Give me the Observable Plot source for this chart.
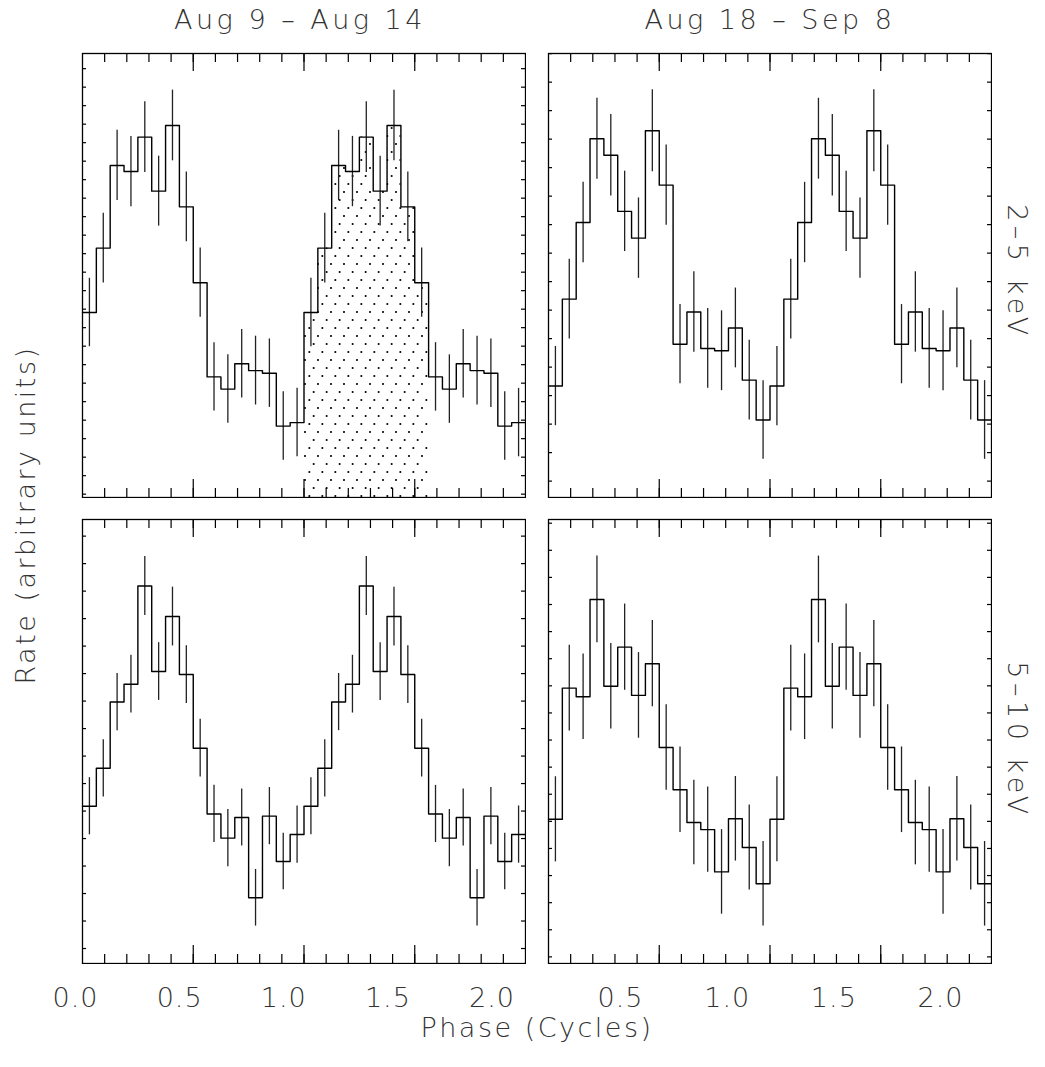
<!DOCTYPE html>
<html><head><meta charset="utf-8">
<script src="https://cdn.jsdelivr.net/npm/d3@7"></script>
<script src="https://cdn.jsdelivr.net/npm/@observablehq/plot@0.6"></script>
<style>
body{margin:0;background:#fff;}
#root{position:relative;width:1045px;height:1067px;background:#fff;font-family:"DejaVu Sans",sans-serif;font-weight:200;color:#333;overflow:hidden;}
.lbl{position:absolute;white-space:nowrap;font-size:27px;line-height:1;}
.box{position:absolute;}
</style></head><body><div id="root"></div>
<script>
// ---------------- data (one cycle, 16 phase bins; plotted twice) ----------------
const nBins = 16;
const columnTitles = ["Aug 9 – Aug 14", "Aug 18 – Sep 8"];
const bandLabels = ["2–5 keV", "5–10 keV"];
const xTitle = "Phase (Cycles)";
const yTitle = "Rate (arbitrary units)";
const phaseTicksLeft = [0, 0.5, 1, 1.5, 2];
const phaseTicksRight = [0.5, 1, 1.5, 2];

// 2-5 keV, Aug 9 - Aug 14
const rateSoftEarly = [10.0, 13.48, 17.95, 17.62, 19.48, 16.56, 20.11, 15.71, 11.61, 6.52, 5.86, 7.23, 6.86, 6.72, 3.86, 4.05];
const errSoftEarly  = [1.85, 1.88, 1.90, 1.90, 1.91, 1.89, 1.91, 1.89, 1.87, 1.85, 1.85, 1.85, 1.86, 1.85, 1.85, 1.85];
// 2-5 keV, Aug 18 - Sep 8
const rateSoftLate  = [3.91, 6.96, 9.65, 12.59, 12.01, 10.04, 9.10, 12.87, 10.96, 5.38, 6.51, 5.23, 5.15, 5.95, 4.12, 2.72];
const errSoftLate   = [1.39, 1.40, 1.41, 1.42, 1.43, 1.41, 1.41, 1.44, 1.41, 1.39, 1.41, 1.40, 1.40, 1.40, 1.40, 1.38];
// 5-10 keV, Aug 9 - Aug 14
const rateHardEarly = [5.72, 7.10, 9.51, 10.16, 13.73, 10.62, 12.62, 10.51, 7.83, 5.44, 4.56, 5.31, 2.39, 5.36, 3.71, 4.69];
const errHardEarly  = [1.04, 1.04, 1.04, 1.05, 1.07, 1.05, 1.07, 1.05, 1.05, 1.04, 1.04, 1.04, 1.03, 1.04, 1.03, 1.04];
// 5-10 keV, Aug 18 - Sep 8
const rateHardLate  = [5.32, 10.16, 9.84, 13.43, 10.23, 11.67, 9.89, 11.06, 7.97, 6.41, 5.20, 4.94, 3.38, 5.34, 4.28, 2.94];
const errHardLate   = [1.57, 1.58, 1.58, 1.60, 1.58, 1.59, 1.58, 1.59, 1.58, 1.58, 1.56, 1.57, 1.56, 1.56, 1.57, 1.56];

// shaded phase interval (top-left panel)
const shadePhase = [1.0, 1.5625];

// per-panel y axis setup (unlabelled minor ticks)
const yDomains = [[0, 24], [0, 15.58], [0, 16.15], [0, 16.38]];
const yTickStart = [0.18, 0.575, 0.545, 0.244];

// ---------------- layout ----------------
const FONT = '"DejaVu Sans", sans-serif';
const root = document.getElementById("root");
const PW = 443, PH = 444;
const panelPos = [[82, 53], [548, 53], [82, 519], [548, 519]];
const panels = [
  {rate: rateSoftEarly, err: errSoftEarly, shade: true},
  {rate: rateSoftLate,  err: errSoftLate,  shade: false},
  {rate: rateHardEarly, err: errHardEarly, shade: false},
  {rate: rateHardLate,  err: errHardLate,  shade: false}
];

function addDiv(text, left, top, extra) {
  const d = document.createElement("div");
  d.className = "lbl";
  d.textContent = text;
  d.style.left = left + "px";
  d.style.top = top + "px";
  Object.assign(d.style, extra || {});
  root.appendChild(d);
  return d;
}

panels.forEach((p, k) => {
  const [dom0, dom1] = yDomains[k];
  const yTicks = d3.range(yTickStart[k], dom1, 1);
  const bins = d3.range(2 * nBins).map(i => ({
    x0: i / nBins, c: (i + 0.5) / nBins, v: p.rate[i % nBins], e: p.err[i % nBins]
  }));
  const pts = bins.map(b => ({x: b.x0, y: b.v}));
  pts.push({x: 2, y: bins[bins.length - 1].v});
  const minor = d3.range(1, 20).map(i => i / 10);
  const major = [0.5, 1, 1.5];
  const marks = [];
  if (p.shade) {
    const sp = bins.filter(b => b.x0 >= shadePhase[0] - 1e-9 && b.x0 < shadePhase[1] - 1e-9).map(b => ({x: b.x0, y: b.v}));
    sp.push({x: shadePhase[1], y: sp[sp.length - 1].y});
    marks.push(Plot.areaY(sp, {x: "x", y: "y", curve: "step-after", fill: "url(#dotfill)"}));
  }
  marks.push(
    Plot.tickX(minor, {x: d => d, insetTop: PH - 9, stroke: "#000", strokeWidth: 1.2}),
    Plot.tickX(minor, {x: d => d, insetBottom: PH - 9, stroke: "#000", strokeWidth: 1.2}),
    Plot.tickX(major, {x: d => d, insetTop: PH - 18, stroke: "#000", strokeWidth: 1.2}),
    Plot.tickX(major, {x: d => d, insetBottom: PH - 18, stroke: "#000", strokeWidth: 1.2}),
    Plot.tickY(yTicks, {y: d => d, insetRight: PW - 4, stroke: "#000", strokeWidth: 1.2}),
    Plot.tickY(yTicks, {y: d => d, insetLeft: PW - 4, stroke: "#000", strokeWidth: 1.2}),
    Plot.ruleX(bins, {x: "c", y1: d => d.v - d.e, y2: d => d.v + d.e, stroke: "#222", strokeWidth: 1.3}),
    Plot.line(pts, {x: "x", y: "y", curve: "step-after", stroke: "#000", strokeWidth: 1.4}),
    Plot.frame({stroke: "#000", strokeWidth: 1.3})
  );
  const svg = Plot.plot({
    width: PW + 2, height: PH + 2,
    marginTop: 1, marginBottom: 1, marginLeft: 1, marginRight: 1,
    x: {domain: [0, 2], axis: null},
    y: {domain: [dom0, dom1], axis: null},
    style: {background: "transparent"},
    marks
  });
  if (p.shade) {
    // slanted lattice of small dots (period 13 x 24, three dots per tile)
    const defs = d3.select(svg).insert("defs", ":first-child");
    const pat = defs.append("pattern")
      .attr("id", "dotfill").attr("patternUnits", "userSpaceOnUse")
      .attr("width", 13).attr("height", 24);
    [[3, 20], [7.33, 12], [11.67, 4]].forEach(([cx, cy]) =>
      pat.append("circle").attr("cx", cx).attr("cy", cy).attr("r", 1.05).attr("fill", "#000"));
  }
  const box = document.createElement("div");
  box.className = "box";
  box.style.left = (panelPos[k][0] - 1) + "px";
  box.style.top = (panelPos[k][1] - 1) + "px";
  box.appendChild(svg);
  root.appendChild(box);
});

// bottom phase tick labels
function labelRow(ticks, domain, x0, x1) {
  const m = 30;
  const svg = Plot.plot({
    width: (x1 - x0) + 2 * m, height: 40,
    marginLeft: m, marginRight: m, marginTop: 0, marginBottom: 0,
    x: {domain, axis: null},
    style: {background: "transparent"},
    marks: [
      Plot.text(ticks, {x: d => d, text: d => d3.format(".1f")(d), frameAnchor: "middle",
        fontSize: 27, fontFamily: FONT, fontWeight: 200, fill: "#333"})
    ]
  });
  svg.style.letterSpacing = "1px";
  const box = document.createElement("div");
  box.className = "box";
  box.style.left = (x0 - m) + "px";
  box.style.top = "978px";
  box.appendChild(svg);
  root.appendChild(box);
}
labelRow(phaseTicksLeft, [0, 2], 75, 491.5);
labelRow(phaseTicksRight, [0.5, 2], 620, 940);

// titles and axis labels
addDiv(columnTitles[0], 300, 6, {transform: "translateX(-50%)", letterSpacing: "3.5px"});
addDiv(columnTitles[1], 770, 6, {transform: "translateX(-50%)", letterSpacing: "3.5px"});
addDiv(xTitle, 537, 1014, {transform: "translateX(-50%)", letterSpacing: "2.5px"});
addDiv(yTitle, 25, 515, {transform: "translate(-50%,-50%) rotate(-90deg)", letterSpacing: "2.5px"});
addDiv(bandLabels[0], 1017, 272, {transform: "translate(-50%,-50%) rotate(90deg)", letterSpacing: "4.5px"});
addDiv(bandLabels[1], 1017, 740, {transform: "translate(-50%,-50%) rotate(90deg)", letterSpacing: "4.5px"});
</script>
</body></html>
